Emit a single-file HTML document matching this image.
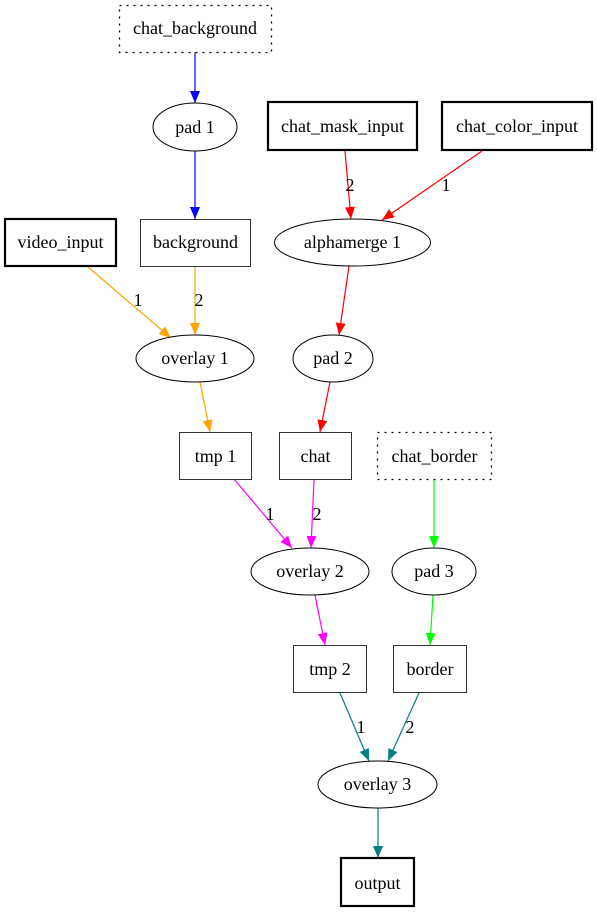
<!DOCTYPE html>
<html><head><meta charset="utf-8"><style>
html,body{margin:0;padding:0;background:#fff;}
svg{display:block;}
text{font-family:"Liberation Serif",serif;font-size:18px;fill:#000;}
</style></head><body>
<svg width="597" height="912" viewBox="0 0 597 912" xmlns="http://www.w3.org/2000/svg">
<defs>
<marker id="mb" markerUnits="userSpaceOnUse" markerWidth="14" markerHeight="12" refX="12" refY="5" orient="auto"><path d="M0,0 L12,5 L0,10 Z" fill="#0000ff"/></marker>
<marker id="mr" markerUnits="userSpaceOnUse" markerWidth="14" markerHeight="12" refX="12" refY="5" orient="auto"><path d="M0,0 L12,5 L0,10 Z" fill="#ff0000"/></marker>
<marker id="mo" markerUnits="userSpaceOnUse" markerWidth="14" markerHeight="12" refX="12" refY="5" orient="auto"><path d="M0,0 L12,5 L0,10 Z" fill="#ffa500"/></marker>
<marker id="mm" markerUnits="userSpaceOnUse" markerWidth="14" markerHeight="12" refX="12" refY="5" orient="auto"><path d="M0,0 L12,5 L0,10 Z" fill="#ff00ff"/></marker>
<marker id="mg" markerUnits="userSpaceOnUse" markerWidth="14" markerHeight="12" refX="12" refY="5" orient="auto"><path d="M0,0 L12,5 L0,10 Z" fill="#00ff00"/></marker>
<marker id="mt" markerUnits="userSpaceOnUse" markerWidth="14" markerHeight="12" refX="12" refY="5" orient="auto"><path d="M0,0 L12,5 L0,10 Z" fill="#008080"/></marker>
</defs>
<g fill="none" stroke-width="1.2">
<line x1="195" y1="52" x2="195" y2="103" stroke="#0000ff" marker-end="url(#mb)"/>
<line x1="195" y1="151" x2="195" y2="219" stroke="#0000ff" marker-end="url(#mb)"/>
<line x1="345" y1="151" x2="351" y2="219" stroke="#ff0000" marker-end="url(#mr)"/>
<line x1="482" y1="151" x2="382" y2="220" stroke="#ff0000" marker-end="url(#mr)"/>
<line x1="88" y1="267" x2="171" y2="338" stroke="#ffa500" marker-end="url(#mo)"/>
<line x1="195" y1="267" x2="195" y2="335" stroke="#ffa500" marker-end="url(#mo)"/>
<line x1="349" y1="266" x2="339" y2="335" stroke="#ff0000" marker-end="url(#mr)"/>
<line x1="200" y1="382" x2="210" y2="432" stroke="#ffa500" marker-end="url(#mo)"/>
<line x1="330" y1="382" x2="320" y2="432" stroke="#ff0000" marker-end="url(#mr)"/>
<line x1="234" y1="479" x2="292" y2="548" stroke="#ff00ff" marker-end="url(#mm)"/>
<line x1="314" y1="480" x2="311" y2="548" stroke="#ff00ff" marker-end="url(#mm)"/>
<line x1="434" y1="480" x2="434" y2="548" stroke="#00ff00" marker-end="url(#mg)"/>
<line x1="315" y1="595" x2="325" y2="645" stroke="#ff00ff" marker-end="url(#mm)"/>
<line x1="433" y1="595" x2="430" y2="645" stroke="#00ff00" marker-end="url(#mg)"/>
<line x1="340" y1="693" x2="369" y2="761" stroke="#008080" marker-end="url(#mt)"/>
<line x1="419" y1="693" x2="388" y2="761" stroke="#008080" marker-end="url(#mt)"/>
<line x1="378" y1="808" x2="378" y2="858" stroke="#008080" marker-end="url(#mt)"/>
</g>
<g fill="#fff" stroke="#000">
<rect x="119.5" y="5.5" width="152" height="47" stroke-dasharray="2,5" stroke-width="1.3"/>
<ellipse cx="195" cy="127" rx="42" ry="24"/>
<rect x="268" y="102" width="149" height="48" stroke-width="2.2"/>
<rect x="442" y="102" width="150" height="48" stroke-width="2.2"/>
<rect x="5" y="219" width="111" height="47" stroke-width="2.2"/>
<rect x="140.5" y="219.5" width="110" height="47" stroke="#333"/>
<ellipse cx="352.5" cy="242.5" rx="78" ry="23.5"/>
<ellipse cx="195" cy="358.5" rx="59" ry="23.5"/>
<ellipse cx="333" cy="358.5" rx="40" ry="23.5"/>
<rect x="179.5" y="432.5" width="72" height="47" stroke="#333"/>
<rect x="279.5" y="432.5" width="72" height="47" stroke="#333"/>
<rect x="377.5" y="432.5" width="114" height="47" stroke-dasharray="2,5" stroke-width="1.3"/>
<ellipse cx="310" cy="571.5" rx="59" ry="23.5"/>
<ellipse cx="434" cy="571.5" rx="42" ry="23.5"/>
<rect x="293.5" y="645.5" width="73" height="47" stroke="#333"/>
<rect x="393.5" y="645.5" width="73" height="47" stroke="#333"/>
<ellipse cx="377.5" cy="784.5" rx="59.5" ry="23.5"/>
<rect x="341" y="858" width="73" height="48" stroke-width="2.2"/>
</g>
<g text-anchor="middle">
<text x="195" y="34">chat_background</text>
<text x="195" y="133">pad 1</text>
<text x="342.5" y="132">chat_mask_input</text>
<text x="517" y="132">chat_color_input</text>
<text x="60.5" y="248">video_input</text>
<text x="195.5" y="248">background</text>
<text x="352.5" y="248">alphamerge 1</text>
<text x="195" y="364">overlay 1</text>
<text x="333" y="364">pad 2</text>
<text x="215.5" y="462">tmp 1</text>
<text x="315.5" y="462">chat</text>
<text x="434.5" y="462">chat_border</text>
<text x="310" y="577">overlay 2</text>
<text x="434" y="577">pad 3</text>
<text x="330" y="675">tmp 2</text>
<text x="430" y="675">border</text>
<text x="377.5" y="790">overlay 3</text>
<text x="377.5" y="889">output</text>
<text x="350" y="191">2</text>
<text x="446" y="191">1</text>
<text x="138" y="306">1</text>
<text x="199" y="306">2</text>
<text x="270" y="520">1</text>
<text x="317" y="520">2</text>
<text x="361" y="733">1</text>
<text x="410" y="733">2</text>
</g>
</svg>
</body></html>
